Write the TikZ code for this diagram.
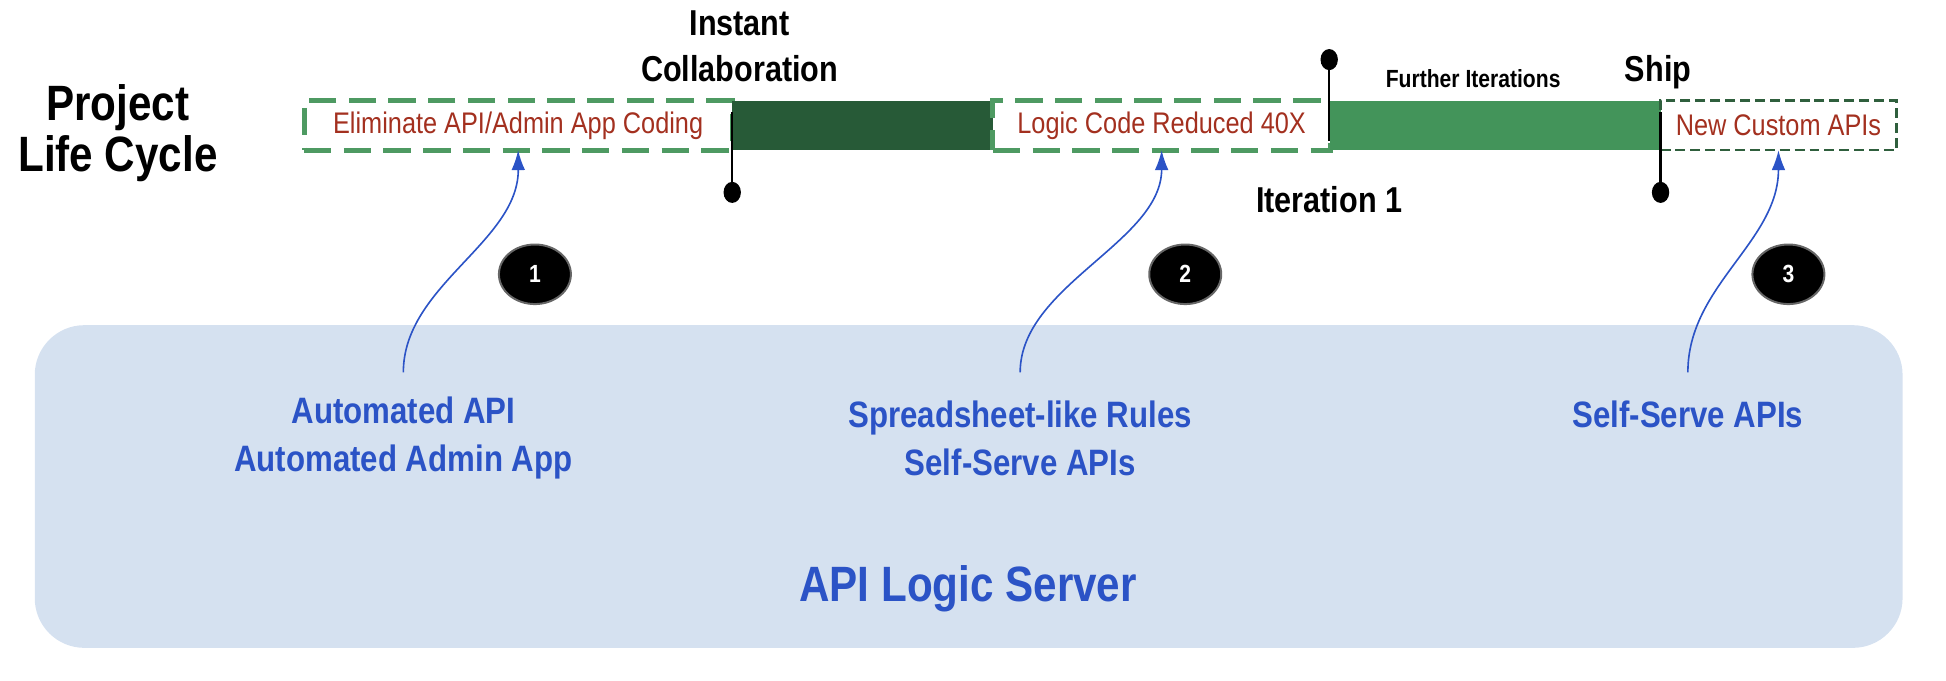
\documentclass[tikz,border=0pt]{standalone}
\usepackage{fontspec}
\setmainfont{Liberation Sans}[FakeStretch=0.85]
\usepackage{xcolor}
\usetikzlibrary{arrows.meta,positioning,shapes.geometric}

\definecolor{dashgreen}{HTML}{4E9A62}
\definecolor{darkbar}{HTML}{275A37}
\definecolor{lightbar}{HTML}{43945A}
\definecolor{shipgreen}{HTML}{2F5F3D}
\definecolor{textred}{HTML}{A3301F}
\definecolor{textblue}{HTML}{2B53C6}
\definecolor{panelblue}{HTML}{D5E1F0}

\begin{document}
\begin{tikzpicture}[x=0.5pt, y=-0.5pt, inner sep=0pt, outer sep=0pt,
    stage/.style={minimum height=20pt, text=textred, font=\fontsize{12}{14}\selectfont},
    bar/.style={minimum height=20pt, right=0pt of #1},
    title/.style={align=center, font=\bfseries\fontsize{14.5}{18.5}\selectfont},
    feature/.style={align=center, text=textblue, font=\bfseries\fontsize{14.8}{19.5}\selectfont},
    milestone/.style={shape=ellipse, fill=black, minimum width=7pt, minimum height=8.5pt},
    badge/.style={shape=ellipse, fill=black, draw=black!60, line width=0.8pt, minimum width=29pt, minimum height=24pt, text=white, font=\bfseries\fontsize{10}{12}\selectfont},
    link/.style={textblue, line width=0.65pt, -{Latex[length=8pt,width=5.5pt]}}]
    \useasboundingbox (0,0) rectangle (1568,548);

    % server panel
    \node[fill=panelblue, rounded corners=20pt, minimum width=752.5pt, minimum height=130pt] (server) at (780.5,392) {};
    \node[text=textblue, font=\bfseries\fontsize{20}{24}\selectfont] (name) at (780,474) {API Logic Server};

    % life cycle bar
    \node[font=\bfseries\fontsize{20}{20.5}\selectfont, align=center] (cycle) at (95,107) {Project\\Life Cycle};
    \node[stage, draw=dashgreen, line width=2pt, dash pattern=on 11pt off 5pt, minimum width=172.5pt] (box1) at (417.5,101) {Eliminate API/Admin App Coding};
    \node[bar=box1, fill=darkbar, minimum width=105pt] (bar1) {};
    \node[stage, right=0pt of bar1, draw=dashgreen, line width=2pt, dash pattern=on 11pt off 5pt, minimum width=136pt] (box2) {Logic Code Reduced 40X};
    \node[bar=box2, fill=lightbar, minimum width=133pt] (bar2) {};
    \node[stage, right=0pt of bar2, draw=shipgreen, line width=1pt, dash pattern=on 4pt off 2pt, minimum width=95pt] (box3) {New Custom APIs};

    % milestones
    \node[milestone] (dot1) at (590,155) {};
    \coordinate (top1) at (590,90);
    \draw[line width=1pt] (dot1) -- (top1);
    \node[milestone] (dot2) at (1071,48) {};
    \coordinate (top2) at (1071,114);
    \draw[line width=1pt] (dot2) -- (top2);
    \node[milestone] (dot3) at (1338,155) {};
    \coordinate (top3) at (1338,90);
    \draw[line width=1pt] (dot3) -- (top3);

    \node[title] (collab) at (596,37) {Instant\\Collaboration};
    \node[font=\bfseries\fontsize{10}{12}\selectfont] (further) at (1187,63) {Further Iterations};
    \node[title] (ship) at (1336,58) {Ship};
    \node[title] (iter) at (1071,161) {Iteration 1};

    % numbered steps
    \node[badge] (n1) at (431,221) {1};
    \node[badge] (n2) at (955,221) {2};
    \node[badge] (n3) at (1441,221) {3};

    % features
    \node[feature] (feat1) at (325,353) {Automated API\\Automated Admin App};
    \node[feature] (feat2) at (822,353) {Spreadsheet-like Rules\\Self-Serve APIs};
    \node[feature] (feat3) at (1360,334) {Self-Serve APIs};
    \coordinate (from1) at (325,300);
    \coordinate (from2) at (822,300);
    \coordinate (from3) at (1360,300);
    \draw[link] (from1) .. controls (325,230) and (418,195) .. (box1.south);
    \draw[link] (from2) .. controls (822,230) and (936,195) .. (box2.south);
    \draw[link] (from3) .. controls (1360,230) and (1433,195) .. (box3.south);
\end{tikzpicture}
\end{document}
